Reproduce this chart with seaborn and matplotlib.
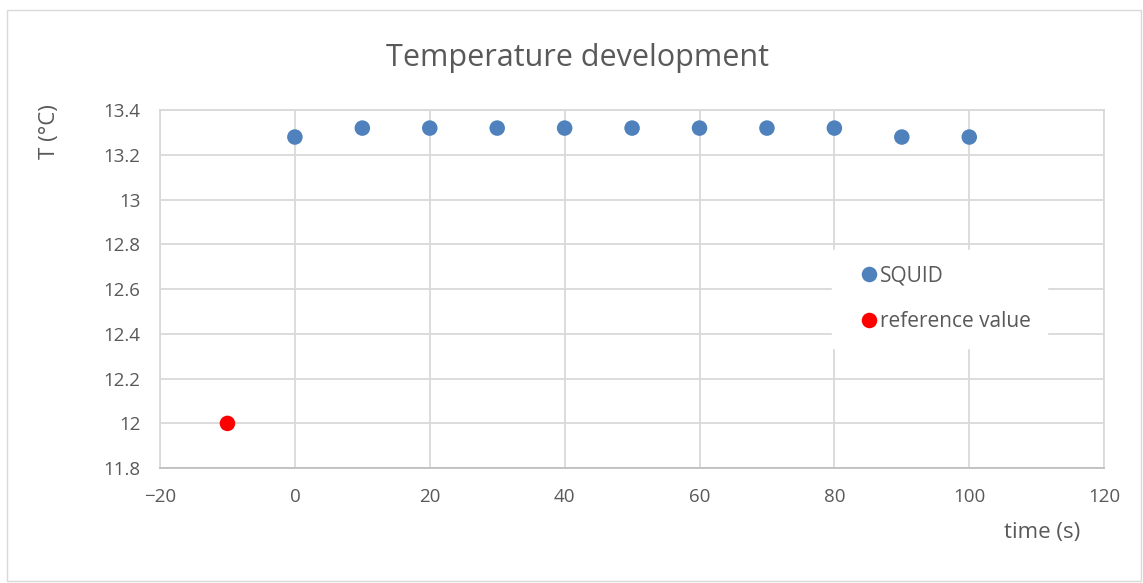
import matplotlib
matplotlib.use("Agg")
import matplotlib.pyplot as plt
import seaborn as sns
import pandas as pd
from matplotlib.patches import Rectangle

squid_time = [0, 10, 20, 30, 40, 50, 60, 70, 80, 90, 100]
squid_temp = [13.28, 13.32, 13.32, 13.32, 13.32, 13.32, 13.32, 13.32, 13.32, 13.28, 13.28]
ref_time = [-10]
ref_temp = [12.0]
series_names = ["SQUID", "reference value"]
x_ticks = [-20, 0, 20, 40, 60, 80, 100, 120]
y_ticks = [11.8, 12.0, 12.2, 12.4, 12.6, 12.8, 13.0, 13.2, 13.4]
y_tick_labels = ["11.8", "12", "12.2", "12.4", "12.6", "12.8", "13", "13.2", "13.4"]

df = pd.DataFrame({
    "time": squid_time + ref_time,
    "T": squid_temp + ref_temp,
    "series": [series_names[0]] * len(squid_time) + [series_names[1]] * len(ref_time),
})

sns.set_theme(style="white")
plt.rcParams["font.family"] = ["Open Sans", "DejaVu Sans"]
text_color = "#595959"
grid_color = "#D9D9D9"

fig = plt.figure(figsize=(11.43, 5.83), dpi=100)
fig.patches.append(Rectangle((0.006, 0.004), 0.992, 0.978, transform=fig.transFigure,
                             fill=False, edgecolor=grid_color, linewidth=1.0))
ax = fig.add_axes([0.140, 0.197, 0.826, 0.614])

sns.scatterplot(data=df, x="time", y="T", hue="series",
                palette={series_names[0]: "#4F81BD", series_names[1]: "#FF0000"},
                s=125, edgecolor="none", ax=ax, zorder=3)

ax.set_xlim(-20, 120)
ax.set_ylim(11.8, 13.4)
ax.set_xticks(x_ticks)
ax.set_yticks(y_ticks)
ax.set_yticklabels(y_tick_labels)
ax.grid(True, color=grid_color, linewidth=1.3)
ax.set_axisbelow(True)
for sp in ax.spines.values():
    sp.set_color(grid_color)
    sp.set_linewidth(1.3)
ax.spines["bottom"].set_color("#BFBFBF")
ax.tick_params(axis="both", length=0, colors=text_color, labelsize=13.5)
ax.tick_params(axis="x", pad=14)
ax.tick_params(axis="y", pad=14)

ax.set_xlabel("")
ax.set_ylabel("")
fig.text(0.043, 0.775, "T (°C)", rotation=90, ha="center", va="center",
         color=text_color, fontsize=16)
fig.text(0.912, 0.086, "time (s)", ha="center", va="center",
         color=text_color, fontsize=16)
fig.text(0.505, 0.9, "Temperature development", ha="center", va="center",
         color=text_color, fontsize=22)

leg = ax.legend(loc="upper left", bbox_to_anchor=(0.712, 0.61), frameon=True,
                fontsize=15, handletextpad=-0.45, labelspacing=1.2,
                borderpad=0.75, markerscale=1.0, borderaxespad=0)
leg.get_frame().set_facecolor("white")
leg.get_frame().set_edgecolor("white")
leg.get_frame().set_alpha(1.0)
leg.get_frame().set_boxstyle("square", pad=0)
for t in leg.get_texts():
    t.set_color(text_color)

fig.savefig("out.png", dpi=100, facecolor="white")
